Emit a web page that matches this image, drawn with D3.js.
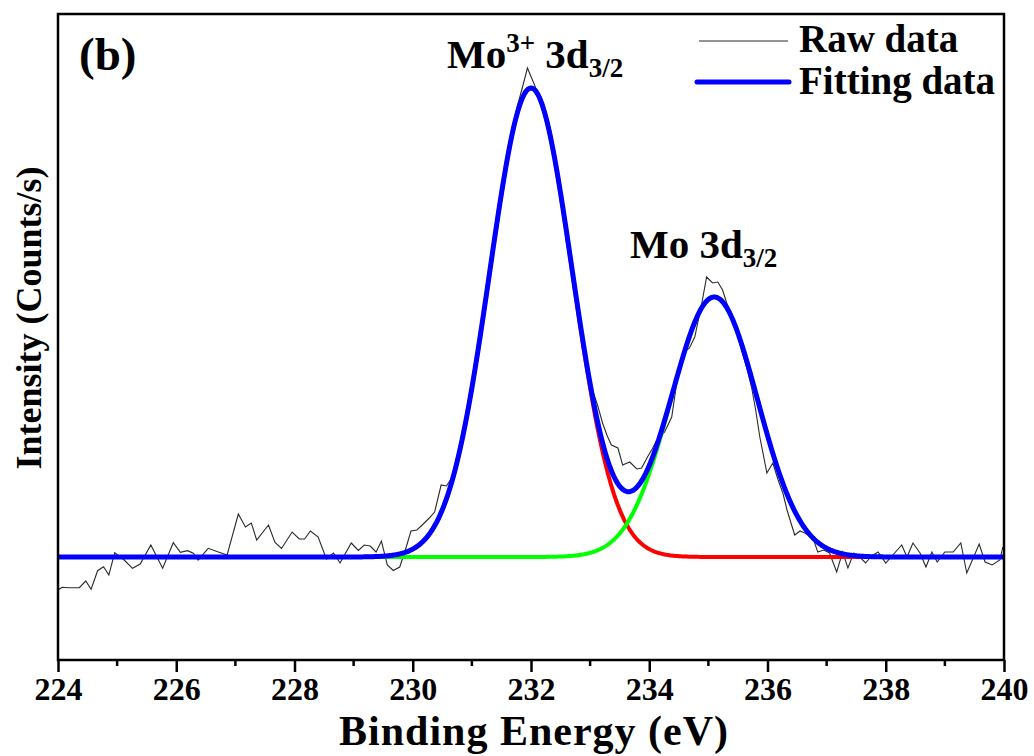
<!DOCTYPE html>
<html>
<head>
<meta charset="utf-8">
<script src="https://cdn.jsdelivr.net/npm/d3@7"></script>
<style>
  html, body { margin: 0; padding: 0; background: #fff; }
  svg { display: block; }
  text { font-family: "Times New Roman", "Liberation Serif", serif; font-weight: bold; fill: #000; }
</style>
</head>
<body>
<svg id="chart" width="1034" height="756"></svg>
<script>
// Measured XPS spectrum (Mo 3d3/2 region)
const rawEnergy = [
  224.00,224.07,224.19,224.36,224.47,224.56,224.67,224.77,224.86,224.96,
  225.12,225.26,225.39,225.57,225.77,225.95,226.07,226.19,226.29,226.37,
  226.54,226.70,226.86,227.05,227.17,227.27,227.36,227.56,227.67,227.78,
  227.96,228.08,228.17,228.27,228.40,228.54,228.66,228.77,228.96,229.08,
  229.18,229.28,229.38,229.47,229.57,229.67,229.78,229.89,229.97,230.07,
  230.16,230.28,230.37,230.48,230.57,230.67,230.77,230.87,230.97,231.07,
  231.17,231.27,231.37,231.47,231.57,231.67,231.77,231.87,231.94,232.06,
  232.16,232.26,232.36,232.46,232.52,232.60,232.69,232.79,232.89,232.96,
  233.04,233.13,233.21,233.29,233.36,233.47,233.55,233.67,233.79,233.87,
  233.97,234.05,234.13,234.26,234.38,234.48,234.57,234.68,234.77,234.89,
  234.97,235.07,235.16,235.24,235.31,235.40,235.48,235.56,235.65,235.73,
  235.80,235.87,235.99,236.09,236.18,236.26,236.33,236.46,236.55,236.63,
  236.77,236.85,236.95,237.05,237.17,237.27,237.36,237.46,237.56,237.66,
  237.76,237.87,238.00,238.12,238.27,238.36,238.46,238.58,238.68,238.78,
  238.87,239.00,239.14,239.27,239.37,239.48,239.58,239.68,239.80,239.93,
  239.98
];
const rawCounts = [
  700,727,723,723,790,707,893,933,850,1073,
  1000,917,960,1150,917,1173,1077,1093,1067,1000,
  1117,1083,1050,1460,1330,1370,1200,1350,1175,1115,
  1280,1210,1210,1290,1230,1010,1070,970,1170,1095,
  1150,1140,1080,1190,950,895,930,1130,1290,1300,
  1350,1420,1480,1750,1740,1830,2050,2290,2560,2940,
  3360,3780,4190,4590,4960,5290,5540,5760,5920,5750,
  5590,5370,5120,4790,4620,4170,4000,3520,3140,2880,
  2700,2540,2370,2240,2150,2120,1950,1980,1910,1920,
  2030,2110,2200,2280,2430,2830,3070,3120,3230,3570,
  3830,3770,3780,3700,3570,3440,3280,3100,2920,2730,
  2500,2230,1870,1970,1800,1670,1500,1250,1290,1270,
  1220,1080,1100,1070,880,1080,920,1070,1030,970,
  1040,1080,970,1050,1150,1030,1170,1070,930,1080,
  980,1080,1080,1170,870,1020,1160,980,950,1000,
  1130
];

// Gaussian fit components: Mo3+ 3d3/2 and Mo 3d3/2
const peakNames   = ["Mo3+ 3d3/2", "Mo 3d3/2"];
const peakCenters = [232.0, 235.1];   // eV
const peakHeights = [4690, 2600];     // counts above background
const peakSigmas  = [0.70, 0.73];     // eV
const peakColors  = ["#ff0000", "#00ff00"];
const background  = 1030;

const xTicks = [224, 226, 228, 230, 232, 234, 236, 238, 240];
const xMinorTicks = [225, 227, 229, 231, 233, 235, 237, 239];

const svg = d3.select("#chart");
const plotLeft = 58, plotRight = 1004, plotTop = 14, plotBottom = 660;

const x = d3.scaleLinear().domain([224, 240]).range([plotLeft, plotRight]);
const y = d3.scaleLinear().domain([0, 6460]).range([plotBottom, plotTop]);

svg.append("defs").append("clipPath").attr("id", "plot-clip")
  .append("rect").attr("x", plotLeft).attr("y", plotTop)
  .attr("width", plotRight - plotLeft).attr("height", plotBottom - plotTop);

const plot = svg.append("g").attr("clip-path", "url(#plot-clip)");

// Model curves evaluated on a fine energy grid
const grid = d3.range(224, 240.0001, 0.02);
const gauss = (e, i) => peakHeights[i] * Math.exp(-((e - peakCenters[i]) ** 2) / (2 * peakSigmas[i] ** 2));

const line = d3.line().x(d => x(d[0])).y(d => y(d[1]));

// Raw data
plot.append("path")
  .datum(rawEnergy.map((e, i) => [e, rawCounts[i]]))
  .attr("fill", "none").attr("stroke", "#2a2a2a").attr("stroke-width", 1.1)
  .attr("stroke-linejoin", "miter")
  .attr("d", line);

// Components
peakCenters.forEach((c, i) => {
  plot.append("path")
    .datum(grid.map(e => [e, background + gauss(e, i)]))
    .attr("fill", "none").attr("stroke", peakColors[i]).attr("stroke-width", 4)
    .attr("d", line);
});

// Envelope
plot.append("path")
  .datum(grid.map(e => [e, background + gauss(e, 0) + gauss(e, 1)]))
  .attr("fill", "none").attr("stroke", "#0000ff").attr("stroke-width", 5)
  .attr("stroke-linejoin", "round")
  .attr("d", line);

// Frame
svg.append("rect").attr("x", plotLeft).attr("y", plotTop)
  .attr("width", plotRight - plotLeft).attr("height", plotBottom - plotTop)
  .attr("fill", "none").attr("stroke", "#000").attr("stroke-width", 2.5);

// Bottom axis
const xAxis = d3.axisBottom(x).tickValues(xTicks).tickSize(12).tickPadding(5).tickFormat(d3.format("d"));
const gx = svg.append("g").attr("transform", `translate(0,${plotBottom})`).call(xAxis);
gx.select(".domain").remove();
gx.selectAll(".tick line").attr("stroke", "#000").attr("stroke-width", 2.5);
gx.selectAll(".tick text").attr("font-size", 32).attr("font-family", "'Times New Roman','Liberation Serif',serif")
  .attr("font-weight", "bold").attr("fill", "#000");
svg.append("g").selectAll("line").data(xMinorTicks).join("line")
  .attr("x1", d => x(d)).attr("x2", d => x(d))
  .attr("y1", plotBottom).attr("y2", plotBottom + 6)
  .attr("stroke", "#000").attr("stroke-width", 2.5);

// Axis titles
svg.append("text").attr("x", 534).attr("y", 745)
  .attr("text-anchor", "middle").attr("font-size", 42).attr("letter-spacing", 1)
  .text("Binding Energy (eV)");
svg.append("text").attr("transform", "translate(41,318) rotate(-90)")
  .attr("text-anchor", "middle").attr("font-size", 36).text("Intensity (Counts/s)");

// Panel label
svg.append("text").attr("x", 79).attr("y", 70).attr("font-size", 47).text("(b)");

// Peak labels
function peakLabel(px, py, base, sup, mid, sub) {
  const t = svg.append("text").attr("x", px).attr("y", py).attr("font-size", 41);
  t.append("tspan").text(base);
  if (sup) t.append("tspan").attr("font-size", 27).attr("dy", -16).text(sup);
  t.append("tspan").attr("dy", sup ? 16 : 0).text(mid);
  t.append("tspan").attr("font-size", 27).attr("dy", 9).text(sub);
}
peakLabel(447, 68, "Mo", "3+", " 3d", "3/2");
peakLabel(630, 258, "Mo", null, " 3d", "3/2");

// Legend
const legend = svg.append("g");
legend.append("line").attr("x1", 699).attr("x2", 788).attr("y1", 41).attr("y2", 41)
  .attr("stroke", "#2a2a2a").attr("stroke-width", 1.1);
legend.append("text").attr("x", 799).attr("y", 52).attr("font-size", 39).text("Raw data");
legend.append("line").attr("x1", 697).attr("x2", 789).attr("y1", 82).attr("y2", 82)
  .attr("stroke", "#0000ff").attr("stroke-width", 5).attr("stroke-linecap", "round");
legend.append("text").attr("x", 799).attr("y", 94).attr("font-size", 39).text("Fitting data");
</script>
</body>
</html>
